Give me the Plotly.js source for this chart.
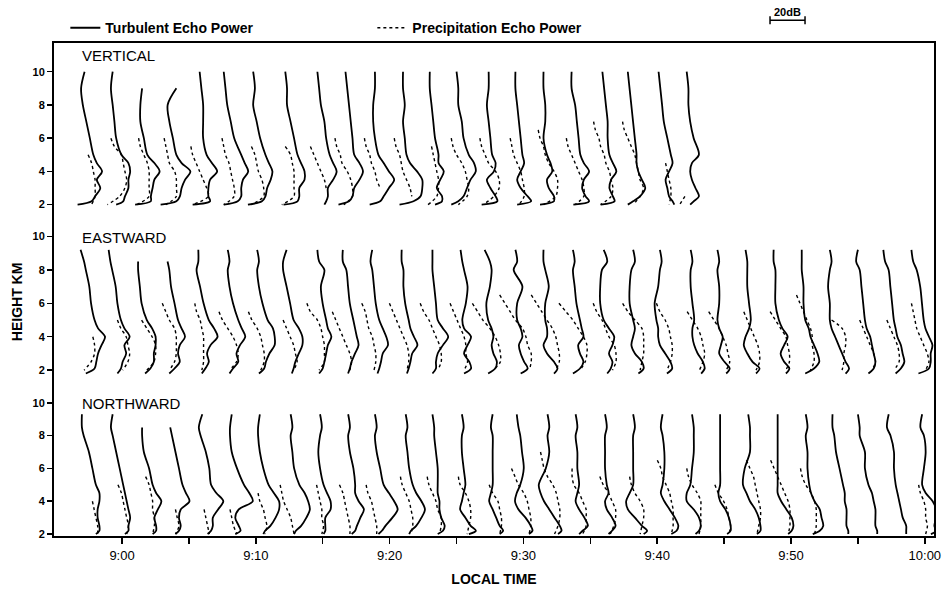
<!DOCTYPE html>
<html><head><meta charset="utf-8">
<script src="https://cdn.plot.ly/plotly-3.0.1.min.js"></script>
<style>html,body{margin:0;padding:0;background:#fff}#chart{width:947px;height:597px}</style>
</head><body><div id="chart"></div>
<script>
const _ = null;
// time of each profile (minutes after 08:00 local time)
const timesV = [57.2,59.3,61.5,63.8,65.8,67.6,69.8,72.2,74.6,76.7,78.9,81.0,83.0,85.0,87.4,89.4,91.5,93.6,95.9,97.8,100.1,102.2];
const timesE = [56.9,59.0,61.2,63.4,65.7,67.9,70.1,72.3,74.6,76.5,78.7,80.9,83.2,85.3,87.1,89.4,91.5,93.7,96.0,98.2,100.2,102.5,104.5,106.6,108.7,110.8,112.9,115.0,116.9,119.0];
const timesN = [57.0,59.3,61.5,63.6,66.0,68.2,70.3,72.6,74.8,76.9,78.9,81.2,83.2,85.4,87.7,89.5,91.8,93.9,96.1,98.2,100.4,102.6,104.7,106.8,109.0,111.1,113.1,115.0,117.3,119.8];
// heights (km) of the turbulent-echo profile samples
const heightsV = [10,9,8,7,6,5,4.5,4,3.5,3,2.5,2.2,2.0];
const heightsE = [9.2,8.5,8,7,6,5,4.5,4,3.5,3,2.5,2.1,1.8];
const heightsN = [9.3,8.5,8,7,6,5,4.5,4,3.5,3,2.5,2.2,2.0];
// heights (km) of the precipitation-echo profile samples
const heightsP = [7,6.5,6,5.5,5,4.5,4,3.5,3,2.5,2];
// turbulent echo power (dB above each profile's noise level)
const turbV = [
[0,-2,-1,1,3,5,7,10,7,9,6,4,-4],[0,-1,0,1,2,5,9,10,9,9,7,6,2],[_,0,-1,-1,1,3,7,10,7,6,5,5,-4],
[_,2,-3,-2,0,2,5,10,7,5,4,2,-7],[0,1,2,2,2,4,7,10,6,5,5,6,-4],[0,1,2,4,6,10,12,14,11,10,10,8,0],
[0,1,0,2,4,7,9,11,10,8,7,5,-3],[0,1,1,3,5,7,9,11,11,8,8,7,-1],[0,1,2,4,5,7,9,11,9,6,6,5,4],
[0,1,2,3,4,5,8,10,8,5,4,2,-4],[0,0,-1,-1,0,2,5,8,11,8,5,3,-3],[0,0,1,0,1,2,4,8,11,11,10,6,-2],
[0,0,1,2,3,5,5,8,6,4,7,7,3],[0,1,1,3,4,7,10,11,8,6,4,1,-3],[0,0,-1,0,1,2,4,3,-1,1,4,5,-4],
[0,0,1,2,3,4,5,3,1,3,7,9,1],[0,0,1,1,0,2,4,5,2,3,6,6,-2],[0,0,2,3,4,5,7,10,7,6,8,10,1],
[0,1,2,3,3,4,6,8,5,4,6,7,-1],[0,1,2,3,4,5,5,6,8,10,7,3,0],[0,1,2,3,5,7,8,6,4,5,6,8,9],
[0,1,1,2,4,7,3,2,3,5,7,4,2]];
const precipV = [
[_,_,_,_,2,4,5,6,6,6,4],[_,_,-1,1,5,6,7,8,7,4,-3],[_,_,-2,-1,1,3,4,4,4,4,-3],
[_,_,-5,-4,-3,-2,1,2,2,2,-4],[_,_,_,-5,-4,-2,0,2,4,5,-4],[_,_,-1,0,1,3,4,5,6,6,0],
[_,_,_,-1,1,2,3,5,6,6,-1],[_,_,_,0,3,4,5,5,5,5,-2],[_,_,_,-4,-2,0,2,4,5,_,_],
[_,_,-6,-5,-3,-2,1,3,4,4,-1],[_,_,-6,-5,-3,-2,0,1,3,_,_],[_,_,-5,-4,-2,-1,0,2,4,5,_],
[_,_,_,1,2,3,4,5,5,4,-1],[_,_,-3,-2,0,3,5,6,7,6,1],[_,_,-5,-4,-2,0,4,6,6,3,-3],
[_,_,-3,-2,-1,1,3,4,5,5,2],[_,-3,-2,0,1,3,6,8,8,7,0],[_,_,-3,-2,0,2,4,6,7,7,2],
[-5,-4,-2,-1,1,2,4,5,6,5,-1],[-3,-2,0,2,4,5,6,7,9,7,3],[_,_,_,_,_,4,5,6,7,7,6],
[_,_,_,_,_,_,_,_,_,-1,-4]];
const turbE = [
[0,2,3,5,6,8,10,14,12,10,9,8,3],[0,1,2,4,5,7,9,12,9,10,8,7,5],[_,0,0,1,2,5,8,10,10,9,9,7,4],
[_,0,1,2,4,6,8,10,7,6,7,4,1],[0,0,-1,1,3,6,9,11,7,5,6,4,2],[0,1,0,1,3,6,8,10,7,5,6,3,1],
[0,1,0,1,3,6,9,10,10,7,5,4,1],[0,-2,-2,0,2,4,7,9,9,7,5,4,3],[0,1,4,2,3,5,6,8,6,5,4,3,1],
[0,0,2,3,4,6,7,8,9,7,5,4,3],[0,-1,0,1,2,4,6,8,9,6,5,4,3],[0,0,1,1,2,4,5,7,9,6,5,4,3],
[0,0,0,1,2,3,6,9,6,3,2,2,0],[0,1,2,4,3,1,2,6,4,2,5,6,2],[0,3,4,3,1,2,4,5,4,5,7,6,2],
[0,1,-1,4,1,1,3,4,2,3,5,7,3],[0,0,1,3,1,1,2,2,0,2,6,8,6],[0,1,0,1,2,4,5,6,3,4,6,4,0],
[0,2,-1,-2,-2,0,3,6,5,3,5,4,2],[0,1,-1,-2,-2,0,1,0,-1,1,5,6,3],[0,1,0,-1,-3,-2,-1,-1,0,3,6,7,4],
[0,1,0,0,1,2,1,1,2,4,7,8,6],[0,1,0,1,1,0,1,3,2,1,4,7,5],[0,1,1,1,2,3,2,0,-1,1,4,8,6],
[0,0,1,1,1,3,5,8,6,4,6,9,7],[0,0,0,1,1,2,4,5,7,9,10,7,2],[0,1,0,-1,0,0,1,3,5,7,9,11,9],
[0,-1,1,2,3,4,5,7,8,9,10,9,6],[0,1,3,4,5,6,7,8,10,11,12,10,7],[0,1,3,5,6,7,8,10,12,11,11,10,4]];
const precipE = [
[_,_,_,_,_,_,7,8,8,6,2],[_,_,_,_,5,7,10,11,12,11,8],[_,_,_,_,2,5,8,10,10,9,5],
[_,_,-3,-1,1,4,5,5,5,4,1],[_,_,-2,-1,1,2,3,3,3,3,2],[_,_,_,-5,-3,0,3,5,6,5,1],
[_,_,_,-5,-3,0,2,3,4,4,2],[_,_,_,_,-2,0,2,4,5,6,4],[_,_,-6,-4,0,2,3,4,4,4,1],
[_,_,_,-6,-4,-2,0,2,4,5,4],[_,_,-6,-4,-3,-2,0,1,2,2,1],[_,_,-7,-5,-3,-1,1,3,4,4,3],
[_,_,-7,-5,-2,0,2,4,5,5,3],[_,_,-6,-4,-2,0,2,3,3,4,2],[_,_,-7,-4,-1,3,6,8,9,9,5],
[_,-9,-6,-3,0,4,6,7,9,9,8],[_,-7,-4,-1,2,5,7,8,9,9,7],[_,_,-8,-4,0,3,6,8,8,7,4],
[_,_,-6,-4,-1,1,3,6,7,7,5],[_,_,-6,-3,1,5,6,6,6,5,4],[_,_,-2,0,3,5,6,7,7,6,4],
[_,_,_,-2,1,4,6,7,8,7,5],[_,_,_,-5,-2,1,3,5,6,7,5],[_,_,_,-1,1,3,5,7,8,8,6],
[_,_,_,-2,1,4,7,8,9,9,7],[_,-3,-1,1,3,5,6,6,7,7,5],[_,_,_,_,1,7,9,9,8,8,7],
[_,_,_,_,1,3,5,7,9,10,8],[_,_,_,_,2,4,6,8,9,9,6],[_,_,0,1,2,3,5,7,9,10,8]];
const turbN = [
[0,0,1,4,6,8,10,10,9,9,10,10,8],[0,-1,0,2,4,6,7,8,9,10,9,9,7],[_,0,0,1,4,6,8,11,9,7,8,8,6],
[_,0,1,3,5,7,9,11,6,5,6,5,3],[0,-2,-1,2,4,5,8,12,9,6,6,5,3],[0,-1,-1,0,3,7,10,12,4,2,4,5,2],
[0,-1,-1,0,2,5,8,11,11,9,6,3,2],[0,1,0,1,2,5,8,10,11,9,6,3,2],[0,1,0,-1,0,2,4,6,6,3,3,3,2],
[0,1,0,1,3,4,4,6,9,7,5,4,2],[0,1,0,1,3,5,8,11,13,10,6,4,2],[0,1,0,1,2,4,6,9,11,9,6,3,2],
[0,1,1,2,3,3,3,4,4,5,7,6,3],[0,1,0,0,1,2,1,0,-1,2,5,8,4],[0,-1,0,0,0,0,-1,-2,0,2,4,6,4],
[0,1,2,3,4,2,0,-1,1,5,8,9,7],[0,1,0,1,-1,-5,-4,-2,1,4,7,8,6],[0,1,0,1,1,2,1,0,2,5,7,4,2],
[0,1,0,0,0,1,2,0,1,4,6,4,2],[0,1,0,0,0,0,-2,-4,-3,1,5,8,6],[0,-1,0,1,1,0,-1,1,4,7,9,8,5],
[0,1,1,1,0,-1,-3,-3,1,4,5,4,2],[0,0,0,0,0,0,-1,0,3,5,6,6,4],[0,1,1,1,-2,-3,-1,1,4,6,7,7,5],
[0,0,0,0,0,0,0,2,5,8,9,8,6],[0,1,0,1,1,2,3,5,8,9,10,8,4],[0,0,1,2,4,6,7,7,8,8,8,9,9],
[0,1,1,4,4,6,8,9,10,10,10,11,11],[0,-1,1,3,3,4,5,6,7,8,10,10,10],[0,-1,1,2,1,0,2,6,8,8,7,8,5]];
const precipN = [
[_,_,_,_,_,_,6,7,8,9,9],[_,_,_,_,3,5,6,7,8,9,8],[_,_,_,2,4,5,6,6,7,7,6],
[_,_,_,_,_,_,_,3,4,5,3],[_,_,_,_,_,_,_,1,2,3,4],[_,_,_,_,_,_,_,-1,0,1,3],
[_,_,_,_,_,-1,0,2,3,4,3],[_,_,_,_,-6,-5,-4,-2,0,1,2],[_,_,_,_,-2,-1,0,1,1,2,1],
[_,_,_,_,-5,-3,-2,-1,0,1,1],[_,_,_,_,-5,-4,-2,-1,0,1,1],[_,_,_,-3,-2,0,2,3,4,4,3],
[_,_,_,-3,-2,0,2,3,5,5,4],[_,_,_,-2,-1,2,4,5,5,4,3],[_,_,_,_,-2,0,3,4,5,5,4],
[_,_,-3,-1,1,4,6,7,8,8,7],[-4,-3,-2,0,3,5,6,7,7,6,4],[_,_,-2,-2,-1,2,4,6,6,6,4],
[_,_,_,-3,-1,2,4,6,6,5,3],[_,_,_,-2,-1,1,4,6,6,5,4],[_,-3,-1,0,2,4,5,6,6,6,5],
[_,_,-3,-2,0,3,5,5,5,5,4],[_,_,_,_,-3,-1,2,4,5,6,5],[_,-1,1,3,4,5,6,7,7,6,5],
[_,-4,-2,0,2,4,6,7,7,7,6],[_,_,-3,-2,0,3,5,6,6,6,5],[_,_,_,_,_,_,_,_,_,_,_],
[_,_,_,_,_,_,_,_,_,_,_],[_,_,_,_,_,_,_,_,_,_,_],[_,_,_,_,-2,-1,1,2,2,3,2]];
const panelNames = ['VERTICAL','EASTWARD','NORTHWARD'];
const timeTicks = [60,65,70,75,80,85,90,95,100,105,110,115,120];
const timeLabels = ['9:00','','9:10','','9:20','','9:30','','9:40','','9:50','','10:00'];
const heightTicks = [2,4,6,8,10];
const scaleBarDb = 20;

// layout scale: minutes of the time axis per dB of echo power
const MIN_PER_DB = 2.616 / 20;
const FONT = 'Liberation Sans, Arial, sans-serif';

function profileTrace(times, heights, vals, yaxis, dotted, show){
  const xs = [], ys = [];
  times.forEach((t, i) => {
    vals[i].forEach((v, j) => {
      xs.push(v === null ? null : t + v * MIN_PER_DB);
      ys.push(heights[j]);
    });
    xs.push(null); ys.push(null);
  });
  return {
    type:'scatter', mode:'lines', x:xs, y:ys, yaxis:yaxis, xaxis:'x',
    connectgaps:false, hoverinfo:'skip',
    name: dotted ? 'Precipitation Echo Power' : 'Turbulent Echo Power',
    legendgroup: dotted ? 'p' : 't', showlegend: show,
    line:{color:'#000', width: dotted ? 1.4 : 1.8, dash: dotted ? 'dot' : 'solid', shape:'spline', smoothing:0.9}
  };
}

const data = [
  profileTrace(timesV, heightsV, turbV, 'y', false, true),
  profileTrace(timesV, heightsP, precipV, 'y', true, true),
  profileTrace(timesE, heightsE, turbE, 'y2', false, false),
  profileTrace(timesE, heightsP, precipE, 'y2', true, false),
  profileTrace(timesN, heightsN, turbN, 'y3', false, false),
  profileTrace(timesN, heightsP, precipN, 'y3', true, false)
];

function yAx(domain, range, extra){
  return Object.assign({
    domain:domain, range:range, anchor:'x', tickmode:'array', tickvals:heightTicks,
    ticks:'outside', ticklen:5, tickwidth:1.5, tickcolor:'#000',
    showgrid:false, zeroline:false, showline:false,
    tickfont:{family:FONT, size:11, color:'#000', weight:'bold'}
  }, extra || {});
}

const barStart = 108.43, barEnd = barStart + scaleBarDb * MIN_PER_DB;

const layout = {
  width:947, height:597,
  margin:{l:53, r:12, t:38, b:60},
  paper_bgcolor:'#fff', plot_bgcolor:'#fff',
  font:{family:FONT, color:'#000'},
  showlegend:true,
  legend:{orientation:'h', x:0.014, xanchor:'left', y:1.028, yanchor:'middle',
    entrywidth:262, entrywidthmode:'pixels', bgcolor:'rgba(0,0,0,0)',
    font:{family:FONT, size:14, color:'#000', weight:'bold'}},
  xaxis:{domain:[0,1], range:[54.84,120.76], anchor:'y3', tickmode:'array',
    tickvals:timeTicks, ticktext:timeLabels, ticks:'outside', ticklen:6, tickwidth:1.5,
    tickcolor:'#000', showgrid:false, zeroline:false, showline:false,
    tickfont:{family:FONT, size:13, color:'#000'},
    title:{text:'LOCAL TIME', standoff:12, font:{family:FONT, size:14, color:'#000', weight:'bold'}}},
  yaxis: yAx([0.6453,1],[1.22,11.79]),
  yaxis2: yAx([0.3046,0.6453],[1.04,11.13],
    {title:{text:'HEIGHT KM', standoff:6, font:{family:FONT, size:14, color:'#000', weight:'bold'}}}),
  yaxis3: yAx([0,0.3046],[1.82,11.01]),
  shapes:[
    {type:'rect', xref:'paper', yref:'paper', x0:0, x1:1, y0:0, y1:1, line:{color:'#000', width:2}},
    {type:'line', xref:'x', yref:'paper', x0:barStart, x1:barEnd, y0:1.044, y1:1.044, line:{color:'#000', width:1.5}},
    {type:'line', xref:'x', yref:'paper', x0:barStart, x1:barStart, y0:1.036, y1:1.052, line:{color:'#000', width:1.5}},
    {type:'line', xref:'x', yref:'paper', x0:barEnd, x1:barEnd, y0:1.036, y1:1.052, line:{color:'#000', width:1.5}}
  ],
  annotations:[
    {text:scaleBarDb + 'dB', xref:'x', yref:'paper', x:(barStart+barEnd)/2, y:1.06, yanchor:'middle',
     showarrow:false, font:{family:FONT, size:11, color:'#000', weight:'bold'}},
    {text:panelNames[0], xref:'paper', yref:'paper', x:0.0306, y:0.972, xanchor:'left', yanchor:'middle', showarrow:false, font:{family:FONT, size:15, color:'#000'}},
    {text:panelNames[1], xref:'paper', yref:'paper', x:0.0306, y:0.605, xanchor:'left', yanchor:'middle', showarrow:false, font:{family:FONT, size:15, color:'#000'}},
    {text:panelNames[2], xref:'paper', yref:'paper', x:0.0306, y:0.2705, xanchor:'left', yanchor:'middle', showarrow:false, font:{family:FONT, size:15, color:'#000'}}
  ]
};

Plotly.newPlot('chart', data, layout, {staticPlot:true, displayModeBar:false});
</script>
</body></html>
